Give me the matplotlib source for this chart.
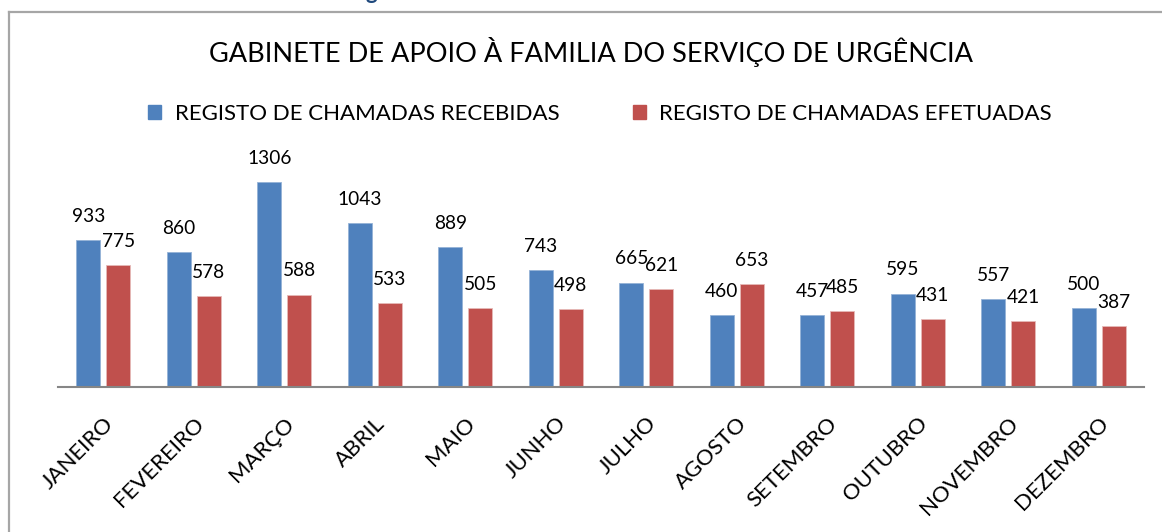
import matplotlib
matplotlib.use('Agg')
import numpy as np
import matplotlib.pyplot as plt
from matplotlib.patches import Patch
from matplotlib.lines import Line2D

# chart data
meses = ['JANEIRO', 'FEVEREIRO', 'MARÇO', 'ABRIL', 'MAIO', 'JUNHO',
         'JULHO', 'AGOSTO', 'SETEMBRO', 'OUTUBRO', 'NOVEMBRO', 'DEZEMBRO']
recebidas = [933, 860, 1306, 1043, 889, 743, 665, 460, 457, 595, 557, 500]
efetuadas = [775, 578, 588, 533, 505, 498, 621, 653, 485, 431, 421, 387]

titulo = 'GABINETE DE APOIO À FAMILIA DO SERVIÇO DE URGÊNCIA'
serie_a = 'REGISTO DE CHAMADAS RECEBIDAS'
serie_b = 'REGISTO DE CHAMADAS EFETUADAS'

azul = '#4F81BD'
vermelho = '#C0504D'

plt.rcParams['font.family'] = ['Lato', 'DejaVu Sans']

W, H = 1162, 532
fig = plt.figure(figsize=(W / 100, H / 100), dpi=100)


def px(x, y):
    # pixel position (from top-left) -> figure fraction
    return x / W, 1 - y / H


# axes placement in pixels: x 58..1144, y 167..387
ax = fig.add_axes([58 / W, 1 - 387 / H, 1086 / W, 220 / H])

x = np.arange(len(meses))
larg = 0.265
desl = 0.166
ax.bar(x - desl, recebidas, larg, color=azul, edgecolor='#95B3D7', linewidth=0.6, zorder=2)
ax.bar(x + desl, efetuadas, larg, color=vermelho, edgecolor='#E6B9B8', linewidth=0.6, zorder=2)

for xi, v in zip(x, recebidas):
    ax.annotate(str(v), (xi - desl, v), xytext=(0, 17), textcoords='offset points',
                ha='center', va='center', fontsize=13.8)
for xi, v in zip(x, efetuadas):
    ax.annotate(str(v), (xi + desl, v), xytext=(0, 17), textcoords='offset points',
                ha='center', va='center', fontsize=13.8)

ax.set_xlim(-0.5, len(meses) - 0.5)
ax.set_ylim(0, 1400)
ax.set_yticks([])
for s in ['top', 'right', 'left']:
    ax.spines[s].set_visible(False)
ax.spines['bottom'].set_color('#868686')
ax.spines['bottom'].set_linewidth(1.5)
ax.set_xticks(x)
ax.set_xticklabels(meses, rotation=45, ha='right', va='top', rotation_mode='anchor', fontsize=16)
ax.tick_params(axis='x', length=0, pad=19)

# title and legend
fig.text(*px(591, 52), titulo, ha='center', va='center', fontsize=19.5)
handles = [Patch(color=azul), Patch(color=vermelho)]
fig.legend(handles, [serie_a, serie_b], loc='center', bbox_to_anchor=px(600, 114), ncol=2,
           frameon=False, fontsize=16, handlelength=0.6, handleheight=0.6,
           handletextpad=0.6, columnspacing=3.3)

# chart frame (only top and left edge inside the picture)
fig.add_artist(Line2D([9 / W, 9 / W], [0, 1 - 12 / H], color='#A6A6A6', lw=1.6))
fig.add_artist(Line2D([9 / W, 1], [1 - 12 / H, 1 - 12 / H], color='#A6A6A6', lw=1.6))

# cut-off heading above the chart
fig.text(365 / W, 1 + 1 / H, 'g', color='#1F497D', fontweight='bold', fontsize=16,
         ha='left', va='baseline')

fig.savefig('out.png', dpi=100)
